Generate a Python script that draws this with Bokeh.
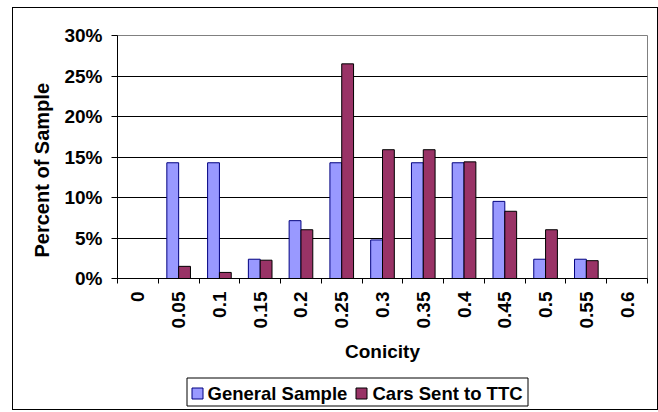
import math
from bokeh.plotting import figure
from bokeh.layouts import column
from bokeh.models import (Range1d, FixedTicker, ColumnDataSource, PrintfTickFormatter, Title)
from bokeh.core.properties import value
from bokeh.transform import dodge
from bokeh.embed import file_html
from bokeh.resources import INLINE

categories = ["0", "0.05", "0.1", "0.15", "0.2", "0.25", "0.3", "0.35", "0.4",
              "0.45", "0.5", "0.55", "0.6"]
general_sample = [0, 14.29, 14.29, 2.38, 7.14, 14.29, 4.76, 14.29, 14.29, 9.52, 2.38, 2.38, 0]
cars_sent_to_ttc = [0, 1.5, 0.75, 2.26, 6.02, 26.5, 15.9, 15.9, 14.4, 8.3, 6.02, 2.2, 0]
y_ticks = [0, 5, 10, 15, 20, 25, 30]
series_names = ["General Sample", "Cars Sent to TTC"]
x_title = "Conicity"
y_title = "Percent of Sample"

FONT = "Liberation Sans"
FS = "19px"
FILL = ["#9999FF", "#993366"]
EDGE = ["#000080", "#000000"]

src = ColumnDataSource(dict(
    x=[i + 0.5 for i in range(len(categories))],
    gen=general_sample,
    cars=cars_sent_to_ttc,
))

p = figure(width=644, height=367, output_backend="svg", toolbar_location=None,
           x_range=Range1d(0, len(categories)), y_range=Range1d(0, 30),
           min_border_left=104, min_border_right=10, min_border_top=27, min_border_bottom=97,
           background_fill_color="white", border_fill_color="white")
p.margin = 0
p.frame_align = False
p.outline_line_color = "#808080"
p.outline_line_width = 1

bw = 0.29
p.vbar(x=dodge("x", -bw / 2), top="gen", width=bw, source=src,
       fill_color=FILL[0], line_color=EDGE[0], line_width=1)
p.vbar(x=dodge("x", bw / 2), top="cars", width=bw, source=src,
       fill_color=FILL[1], line_color=EDGE[1], line_width=1)

# x axis
xa = p.xaxis[0]
xa.ticker = FixedTicker(ticks=[i + 0.5 for i in range(len(categories))],
                        minor_ticks=list(range(len(categories) + 1)))
xa.major_label_overrides = {i + 0.5: c for i, c in enumerate(categories)}
xa.major_tick_out = 0
xa.major_tick_in = 0
xa.minor_tick_out = 5
xa.minor_tick_in = 0
xa.minor_tick_line_color = "black"
xa.axis_line_color = "black"
xa.major_label_orientation = math.pi / 2
xa.major_label_text_font = FONT
xa.major_label_text_font_style = "bold"
xa.major_label_text_font_size = FS
xa.major_label_text_color = "black"
xa.major_label_standoff = 8
xa.axis_label = x_title
xa.axis_label_text_font = FONT
xa.axis_label_text_font_style = "bold"
xa.axis_label_text_font_size = FS
xa.axis_label_text_color = "black"
xa.axis_label_standoff = 10

# y axis
ya = p.yaxis[0]
ya.ticker = FixedTicker(ticks=y_ticks, minor_ticks=[])
ya.formatter = PrintfTickFormatter(format="%d%%")
ya.major_tick_out = 6
ya.major_tick_in = 0
ya.major_tick_line_color = "black"
ya.axis_line_color = "black"
ya.major_label_text_font = FONT
ya.major_label_text_font_style = "bold"
ya.major_label_text_font_size = FS
ya.major_label_text_color = "black"
ya.major_label_standoff = 9

yt = Title(text=y_title, align="left", offset=21, standoff=18,
           text_font=FONT, text_font_style="bold", text_font_size="20px",
           text_color="black")
p.add_layout(yt, "left")

p.xgrid.grid_line_color = None
p.ygrid.ticker = FixedTicker(ticks=y_ticks)
p.ygrid.grid_line_color = "black"
p.ygrid.grid_line_width = 1

# legend strip: a small figure whose data units are pixels
lg = figure(width=644, height=34, output_backend="svg", toolbar_location=None,
            x_range=Range1d(0, 644), y_range=Range1d(0, 34),
            x_axis_location=None, y_axis_location=None,
            min_border=0, background_fill_color="white", border_fill_color="white")
lg.margin = 0
lg.frame_align = False
lg.grid.grid_line_color = None
lg.outline_line_color = None

box = dict(left=[173.5], right=[514.5], bottom=[3.5], top=[31.5])
lg.quad(source=ColumnDataSource(box), left="left", right="right", bottom="bottom", top="top",
        fill_color="white", line_color="black", line_width=1)
sw_left = [178.5, 342.5]
txt_left = [194, 359]
lg.quad(left=sw_left, right=[s + 11 for s in sw_left], bottom=[10.5, 10.5], top=[21.5, 21.5],
        fill_color=FILL, line_color=EDGE, line_width=1)
lg.text(x=txt_left, y=[16.5, 16.5], text=series_names,
        text_font=value(FONT), text_font_style="bold", text_font_size="18.5px",
        text_color="black", text_align="left", text_baseline="middle")

layout = column(p, lg, spacing=0)
layout.margin = (7, 0, 0, 12)
layout.styles = {"border": "1px solid black", "background-color": "white"}

open("out.html", "w").write(file_html(layout, INLINE))
